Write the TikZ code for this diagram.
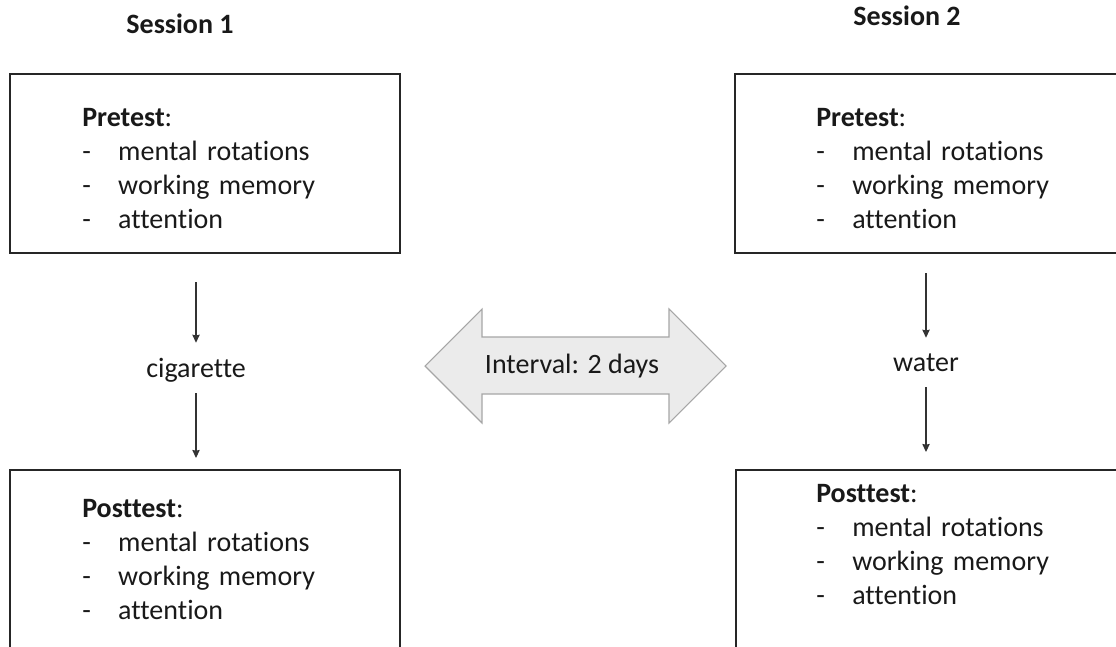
\documentclass[tikz,border=0pt]{standalone}
\usepackage{fontspec}
\setmainfont{Carlito}[Ligatures={NoCommon}]
\usetikzlibrary{fit,arrows.meta}
% list of the three tests
\newcommand{\testlist}[1]{\textbf{#1}:\\
  \makebox[27pt][l]{-}mental rotations\\
  \makebox[27pt][l]{-}working memory\\
  \makebox[27pt][l]{-}attention}
\tikzset{
  box/.style={draw=black!85, line width=1.2pt, inner sep=0pt, outer sep=0pt},
  txt/.style={anchor=base west, inner sep=0pt, text width=7cm, align=left,
    font=\fontsize{21}{25.5}\selectfont, text=black!90},
  lbl/.style={anchor=base, inner sep=0pt, text height=10.5pt, text depth=0pt,
    font=\fontsize{21}{25.5}\selectfont, text=black!90},
  flow/.style={-{Stealth[length=6pt,width=5.5pt,inset=0.5pt]}, line width=0.8pt, black!80},
  gapbox/.style={draw=black!35, fill=black!8, line width=0.8pt, line join=miter}
}
\begin{document}
\begin{tikzpicture}[x=0.75pt, y=-0.75pt]
  \useasboundingbox (0,0) rectangle (1116,646);
  \clip (0,0) rectangle (1116,646);
  % session titles
  \node[lbl, font=\fontsize{21}{25.5}\selectfont\bfseries] (ses1) at (180,33) {Session 1};
  \node[lbl, font=\fontsize{21}{25.5}\selectfont\bfseries] (ses2) at (907,26) {Session 2};
  % boxes (cut by the page edge)
  \foreach \nm/\xa/\ya/\xb/\yb in {pre1/10/74/400/253, post1/10/470/400/720,
                                   pre2/735/74/1140/253, post2/736/470/1140/720}
    \node[box, fit={(\xa,\ya) (\xb,\yb)}] (\nm) {};
  \foreach \nm/\x/\y/\head in {pret1/82/126/Pretest, postt1/82/517/Posttest,
                               pret2/816/126/Pretest, postt2/816/502/Posttest}
    \node[txt] (\nm) at (\x,\y) {\testlist{\head}};
  % treatments
  \node[lbl] (cig) at (196,377) {cigarette};
  \node[lbl] (wat) at (926,371) {water};
  \draw[flow, shorten <=21.75pt, shorten >=15pt] (pre1.south -| cig) -- (cig.north);
  \draw[flow, shorten <=12pt, shorten >=9pt] (cig.south) -- (cig.south |- post1.north);
  \draw[flow, shorten <=15pt, shorten >=14.25pt] (pre2.south -| wat) -- (wat.north);
  \draw[flow, shorten <=12pt, shorten >=13.5pt] (wat.south) -- (wat.south |- post2.north);
  % double arrow between sessions
  \draw[gapbox] (425,366) -- (482,309) -- (482,337) -- (669,337) -- (669,309) -- (726,366)
    -- (669,423) -- (669,394) -- (482,394) -- (482,423) -- cycle;
  \node[lbl] (gap) at (572,373) {Interval: 2 days};
\end{tikzpicture}
\end{document}
